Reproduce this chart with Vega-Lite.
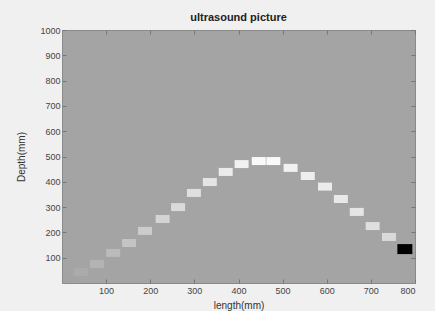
{
  "$schema": "https://vega.github.io/schema/vega-lite/v6.json",
  "autosize": "none",
  "width": 353,
  "height": 253,
  "padding": {"left": 62, "top": 30, "right": 20, "bottom": 28},
  "background": "#f0f0f0",
  "title": {"text": "ultrasound picture", "fontSize": 11, "fontWeight": "bold", "font": "Liberation Sans", "color": "#222", "offset": 3},
  "config": {
    "view": {"fill": "#a4a4a4", "stroke": "#8a8a8a", "strokeWidth": 1},
    "axis": {"labelFont": "Liberation Sans", "titleFont": "Liberation Sans", "labelFontSize": 9, "titleFontSize": 10, "labelColor": "#444", "titleColor": "#333", "titleFontWeight": "normal", "grid": false, "domain": false, "tickColor": "#777", "tickSize": -4, "format": "d"}
  },
  "data": {"values": [
    {"length": 18, "depth": 20, "intensity": 0.67, "kind": "echo"},
    {"length": 43, "depth": 43, "intensity": 0.7, "kind": "echo"},
    {"length": 79, "depth": 75, "intensity": 0.73, "kind": "echo"},
    {"length": 116, "depth": 119, "intensity": 0.76, "kind": "echo"},
    {"length": 152, "depth": 158, "intensity": 0.79, "kind": "echo"},
    {"length": 188, "depth": 206, "intensity": 0.82, "kind": "echo"},
    {"length": 228, "depth": 253, "intensity": 0.85, "kind": "echo"},
    {"length": 263, "depth": 300, "intensity": 0.87, "kind": "echo"},
    {"length": 299, "depth": 356, "intensity": 0.89, "kind": "echo"},
    {"length": 335, "depth": 399, "intensity": 0.91, "kind": "echo"},
    {"length": 371, "depth": 439, "intensity": 0.93, "kind": "echo"},
    {"length": 407, "depth": 470, "intensity": 0.95, "kind": "echo"},
    {"length": 446, "depth": 482, "intensity": 0.98, "kind": "echo"},
    {"length": 479, "depth": 482, "intensity": 0.98, "kind": "echo"},
    {"length": 518, "depth": 455, "intensity": 0.95, "kind": "echo"},
    {"length": 557, "depth": 423, "intensity": 0.94, "kind": "echo"},
    {"length": 596, "depth": 381, "intensity": 0.93, "kind": "echo"},
    {"length": 632, "depth": 332, "intensity": 0.92, "kind": "echo"},
    {"length": 668, "depth": 281, "intensity": 0.91, "kind": "echo"},
    {"length": 704, "depth": 225, "intensity": 0.89, "kind": "echo"},
    {"length": 741, "depth": 182, "intensity": 0.87, "kind": "echo"},
    {"length": 777, "depth": 134, "intensity": 0.0, "kind": "probe"}
  ]},
  "layer": [
    {
      "transform": [{"filter": "datum.kind == 'echo'"}],
      "mark": {"type": "rect", "width": 14, "height": 8},
      "encoding": {
        "x": {"field": "length", "type": "quantitative", "scale": {"domain": [0, 800], "nice": false}, "axis": {"title": "length(mm)", "values": [100, 200, 300, 400, 500, 600, 700, 800], "labelPadding": 7, "titlePadding": 5}},
        "y": {"field": "depth", "type": "quantitative", "scale": {"domain": [0, 1000], "nice": false}, "axis": {"title": "Depth(mm)", "values": [100, 200, 300, 400, 500, 600, 700, 800, 900, 1000], "labelPadding": 6, "titlePadding": 13}},
        "color": {"field": "intensity", "type": "quantitative", "scale": {"domain": [0, 1], "range": ["#000000", "#ffffff"]}, "legend": null}
      }
    },
    {
      "transform": [{"filter": "datum.kind == 'probe'"}],
      "mark": {"type": "rect", "width": 15, "height": 10},
      "encoding": {
        "x": {"field": "length", "type": "quantitative", "axis": {"orient": "top", "title": null, "labels": false, "values": [100, 200, 300, 400, 500, 600, 700, 800]}},
        "y": {"field": "depth", "type": "quantitative", "axis": {"orient": "right", "title": null, "labels": false, "values": [100, 200, 300, 400, 500, 600, 700, 800, 900, 1000]}},
        "color": {"field": "intensity", "type": "quantitative", "legend": null}
      }
    }
  ],
  "resolve": {"axis": {"x": "independent", "y": "independent"}}
}
